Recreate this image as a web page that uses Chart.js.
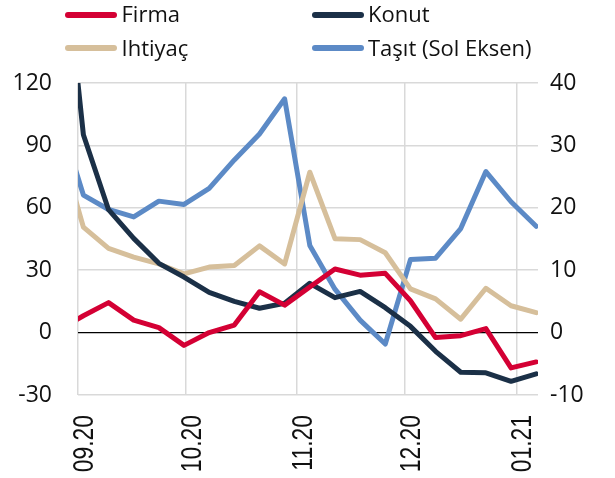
<!DOCTYPE html>
<html><head><meta charset="utf-8">
<script src="https://cdn.jsdelivr.net/npm/chart.js@4"></script>
<style>
html,body{margin:0;padding:0;background:#fff;}
#wrap{position:relative;width:615px;height:478px;overflow:hidden;}
#c{position:absolute;left:0;top:0;}
.lt{position:absolute;font-family:'Open Sans',sans-serif;font-size:22px;line-height:22px;color:#111;white-space:nowrap;}
.ll{position:absolute;width:52px;height:6px;border-radius:3px;}
</style></head><body>
<div id="wrap"><canvas id="c" width="615" height="478"></canvas><div id="legend"></div></div>
<script>
// Weekly observation dates
const dates = ['2020-08-26','2020-09-02','2020-09-09','2020-09-16','2020-09-23','2020-09-30',
  '2020-10-07','2020-10-14','2020-10-21','2020-10-28','2020-11-04','2020-11-11','2020-11-18',
  '2020-11-25','2020-12-02','2020-12-09','2020-12-16','2020-12-23','2020-12-30','2021-01-06'];
// Right axis series
const firma   = [0.3, 2.7, 4.8, 2.0, 0.8, -2.05, 0, 1.2, 6.55, 4.4, 7.3, 10.2, 9.2, 9.5, 5.1, -0.8, -0.5, 0.65, -5.65, -4.7];
const konut   = [70, 31.7, 19.7, 15.1, 11.1, 8.9, 6.45, 5.0, 3.9, 4.7, 7.9, 5.6, 6.6, 4.0, 1.0, -3.0, -6.35, -6.45, -7.8, -6.6];
const ihtiyac = [31, 16.9, 13.5, 12.1, 11.0, 9.4, 10.5, 10.75, 13.9, 11.0, 25.7, 15.05, 14.9, 12.8, 7.0, 5.4, 2.15, 7.1, 4.3, 3.2];
// Left axis series
const tasit   = [105, 66.1, 59.2, 55.6, 63.2, 61.6, 69.3, 83, 95.5, 112.4, 41.9, 20.9, 6, -5.5, 35.1, 35.8, 50, 77.4, 62.9, 51.1];
// X ticks (month starts)
const monthStarts = ['2020-09-01','2020-10-01','2020-11-01','2020-12-01','2021-01-01'];
const monthLabels = ['09.20','10.20','11.20','12.20','01.21'];
const axisEnd = '2021-01-07';
const leftTicks = [-30, 0, 30, 60, 90, 120];
const rightTicks = [-10, 0, 10, 20, 30, 40];
const seriesNames = ['Firma','Konut','Ihtiyaç','Taşıt (Sol Eksen)'];
const colors = ['#D40034','#1B3047','#D6BF9B','#5C8AC6'];

const base = Date.UTC(2020,8,1);
const dayOf = s => { const [y,m,d] = s.split('-').map(Number); return (Date.UTC(y,m-1,d)-base)/864e5; };
const xs = dates.map(d => dayOf(d) + 0.5);
const tickDays = monthStarts.map(dayOf);
const pts = arr => arr.map((v,i) => ({x: xs[i], y: v}));

function ds(label, data, color, axis, order){
  return {label, data: pts(data), borderColor: color, backgroundColor: color, borderWidth: 5,
    pointRadius: 0, tension: 0, yAxisID: axis, clip: 0, borderCapStyle: 'round', borderJoinStyle: 'round', order};
}

// Draw month labels rotated, in a narrow (condensed) style
const monthLabelPlugin = {
  id: 'monthLabels',
  afterDraw(chart){
    const s = chart.scales.x, ctx = chart.ctx;
    ctx.save();
    ctx.fillStyle = '#111';
    ctx.font = "29px 'Liberation Sans', Arial, sans-serif";
    tickDays.forEach((d, i) => {
      const px = s.getPixelForValue(d);
      ctx.save();
      ctx.translate(px + 15, chart.chartArea.bottom + 20);
      ctx.rotate(-Math.PI / 2);
      ctx.scale(0.79, 1);
      ctx.textAlign = 'right';
      ctx.textBaseline = 'alphabetic';
      ctx.fillText(monthLabels[i], 0, 0);
      ctx.restore();
    });
    ctx.restore();
  }
};

new Chart(document.getElementById('c'), {
  type: 'line',
  data: { datasets: [
    ds(seriesNames[3], tasit, colors[3], 'y', 4),
    ds(seriesNames[2], ihtiyac, colors[2], 'y1', 3),
    ds(seriesNames[1], konut, colors[1], 'y1', 2),
    ds(seriesNames[0], firma, colors[0], 'y1', 1)
  ]},
  plugins: [monthLabelPlugin],
  options: {
    responsive: false, animation: false,
    layout: { padding: { top: 83, left: 0, right: 0, bottom: 0 } },
    plugins: { legend: { display: false }, tooltip: { enabled: false } },
    scales: {
      x: {
        type: 'linear', min: 0, max: dayOf(axisEnd),
        afterBuildTicks: s => { s.ticks = tickDays.map(v => ({value: v})); },
        afterFit: s => { s.height = 83; },
        grid: { color: '#d9d9d9', lineWidth: 1.5, drawTicks: false },
        border: { display: false },
        ticks: { display: false }
      },
      y: {
        position: 'left', min: -30, max: 120,
        afterBuildTicks: s => { s.ticks = leftTicks.map(v => ({value: v})); },
        afterFit: s => { s.width = 78; },
        grid: { color: c => c.tick && c.tick.value === 0 ? '#000' : '#d9d9d9',
                lineWidth: c => c.tick && c.tick.value === 0 ? 1.2 : 1.5, drawTicks: false },
        border: { display: false },
        ticks: { padding: 26, color: '#111', font: { family: "'Open Sans'", size: 23 } }
      },
      y1: {
        position: 'right', min: -10, max: 40,
        afterBuildTicks: s => { s.ticks = rightTicks.map(v => ({value: v})); },
        afterFit: s => { s.width = 77; },
        grid: { display: false, drawTicks: false },
        border: { display: false },
        ticks: { padding: 12, color: '#111', font: { family: "'Open Sans'", size: 23 } }
      }
    }
  }
});

// HTML legend
const lg = document.getElementById('legend');
const items = [
  {i:0, lx:65, ly:15, tx:121.5, ty:2.2},
  {i:1, lx:312, ly:15, tx:368, ty:2.2},
  {i:2, lx:65, ly:48, tx:121.5, ty:35.5},
  {i:3, lx:312, ly:48, tx:368, ty:35.5}
];
items.forEach(it => {
  const l = document.createElement('div'); l.className = 'll';
  l.style.left = it.lx + 'px'; l.style.top = (it.ly - 3) + 'px'; l.style.background = colors[it.i];
  const t = document.createElement('div'); t.className = 'lt';
  t.style.left = it.tx + 'px'; t.style.top = it.ty + 'px'; t.textContent = seriesNames[it.i];
  lg.appendChild(l); lg.appendChild(t);
});
</script>
</body></html>
